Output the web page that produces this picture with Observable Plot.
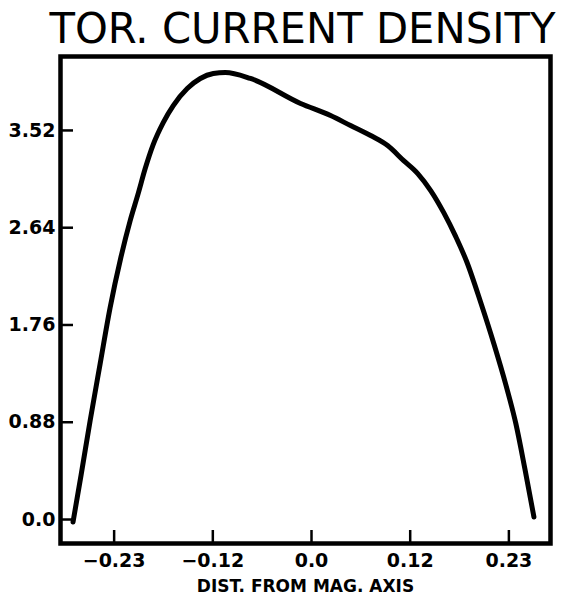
<!DOCTYPE html>
<html><head><meta charset="utf-8">
<script src="https://cdn.jsdelivr.net/npm/d3@7"></script>
<script src="https://cdn.jsdelivr.net/npm/@observablehq/plot@0.6"></script>
<style>body{margin:0;background:#fff}</style>
</head><body><div id="chart"></div>
<script>
const titleText = "TOR. CURRENT DENSITY";
const xLabel = "DIST. FROM MAG. AXIS";
const distance = [-0.2779,-0.2685,-0.2580,-0.2463,-0.2347,-0.2222,-0.2113,-0.2020,-0.1938,-0.1845,-0.1728,-0.1611,-0.1448,-0.1296,-0.1144,-0.1004,-0.0712,-0.0128,0.0222,0.0455,0.0689,0.0887,0.1074,0.1238,0.1389,0.1541,0.1681,0.1809,0.1973,0.2125,0.2265,0.2382,0.2487,0.2592];
const density = [-0.023,0.403,0.892,1.409,1.916,2.369,2.704,2.948,3.175,3.392,3.591,3.745,3.899,3.990,4.035,4.044,3.990,3.764,3.655,3.564,3.474,3.383,3.247,3.130,2.976,2.776,2.559,2.332,1.961,1.590,1.218,0.865,0.457,0.023];
const xTicks = [-0.23,-0.115,0,0.115,0.23];
const xTickLabels = ["\u22120.23","\u22120.12","0.0","0.12","0.23"];
const yTicks = [0,0.88,1.76,2.64,3.52];
const yTickLabels = ["0.0","0.88","1.76","2.64","3.52"];
const data = distance.map((x,i)=>({x, y: density[i]}));
const W = 572, H = 613, ML = 60, MR = 22, MT = 56, MB = 70, TICK = 13;
const chart = Plot.plot({
  width:W, height:H, marginLeft:ML, marginRight:MR, marginTop:MT, marginBottom:MB,
  style:{fontFamily:"DejaVu Sans", background:"white", color:"black"},
  x:{domain:[-0.2925,0.2785]},
  y:{domain:[-0.217,4.189]},
  marks:[
    Plot.tickY(yTicks,{y:d=>d, insetRight:(W-ML-MR)-TICK, strokeWidth:2.5, stroke:"black"}),
    Plot.tickX(xTicks,{x:d=>d, insetTop:(H-MT-MB)-TICK, strokeWidth:2.5, stroke:"black"}),
    Plot.axisY(yTicks,{tickSize:0, tickPadding:5, tickFormat:d=>yTickLabels[yTicks.indexOf(d)], fontSize:19, fontWeight:"bold", label:null}),
    Plot.axisX(xTicks,{tickSize:0, tickPadding:10, tickFormat:d=>xTickLabels[xTicks.indexOf(d)], fontSize:19, fontWeight:"bold", label:null}),
    Plot.frame({strokeWidth:4.5, stroke:"black"}),
    Plot.line(data,{x:"x", y:"y", curve:"monotone-x", strokeWidth:5, stroke:"black", strokeLinecap:"round"}),
    Plot.text([xLabel],{frameAnchor:"bottom", dy:43, lineAnchor:"middle", fontSize:17, fontWeight:"bold"}),
    Plot.text([titleText],{frameAnchor:"top", dy:-27, dx:-3, lineAnchor:"middle", fontSize:42, className:"title"})
  ]
});
document.getElementById("chart").appendChild(chart);
const t = chart.querySelector(".title text");
if (t) { t.setAttribute("textLength","506"); t.setAttribute("lengthAdjust","spacingAndGlyphs"); }
</script></body></html>
